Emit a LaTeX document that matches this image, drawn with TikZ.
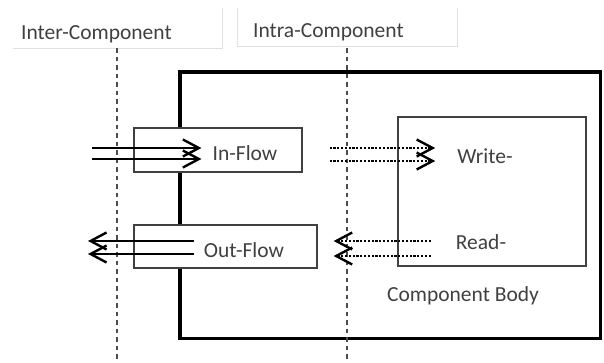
\documentclass[tikz,border=0pt]{standalone}
\usepackage{fontspec}
\setmainfont{Carlito}
\usetikzlibrary{arrows.meta,positioning}
\definecolor{txtgray}{HTML}{404040}
\tikzset{
  txt/.style={text=txtgray,font=\fontsize{21.5}{26}\selectfont,inner sep=0pt},
  flowbox/.style={draw=black!75,fill=white,line width=1.3pt,inner sep=0pt},
  solidflow/.style={line width=2.2pt,-{Straight Barb[length=16pt,width=17pt,line width=2.4pt]}},
  dotflow/.style={solidflow,dash pattern=on 2.2pt off 1.6pt},
  divider/.style={draw=black!70,line width=1.3pt,dash pattern=on 4.5pt off 4pt},
  tab/.style={draw=black!12,line width=1pt}
}
\begin{document}
\begin{tikzpicture}[x=1pt,y=-1pt]
\useasboundingbox (0,0) rectangle (604,362);
% column tabs
\draw[tab] (13,48) -- (222,48) -- (222,8);
\draw[tab] (237,8) -- (237,46) -- (457,46) -- (457,8);
\node[txt,anchor=west] (inter) at (21,34) {Inter-Component};
\node[txt,anchor=west] (intra) at (253,32) {Intra-Component};
% component and body
\node[draw,line width=3.5pt,minimum width=420.5pt,minimum height=266.5pt,inner sep=0pt] (comp) at (390,205) {};
\node[draw=black!75,line width=1.3pt,minimum width=188pt,minimum height=149pt,inner sep=0pt] (body) at (492,191.5) {};
% dividers
\coordinate (interTop) at (117,48);
\coordinate (interBot) at (117,362);
\coordinate (intraTop) at (347,48);
\coordinate (intraBot) at (347,362);
\draw[divider] (interTop) -- (interBot);
\draw[divider] (intraTop) -- (intraBot);
% flow boxes
\node[flowbox,minimum width=168pt,minimum height=44pt] (inbox) at (218,150) {};
\node[flowbox,minimum width=183pt,minimum height=43pt] (outbox) at (225.5,246.5) {};
\node[txt] (inlbl) at (245,153) {In-Flow};
\node[txt] (outlbl) at (244,250) {Out-Flow};
\node[txt] (writelbl) at (485,156) {Write-};
\node[txt] (readlbl) at (481,242) {Read-};
\node[txt] (bodylbl) at (463,296) {Component Body};
% flows
\coordinate (inSrc) at (92,150);
\coordinate (outDst) at (88,246.5);
\foreach \dy in {2,-9}
  \draw[solidflow] ([yshift=\dy pt]inbox.west -| inSrc) -- ([xshift=-11pt,yshift=\dy pt]inbox.west -| inlbl.west);
\foreach \dy in {5.5,-7.5}
  \draw[solidflow] ([xshift=-10pt,yshift=\dy pt]outbox.west -| outlbl.west) -- ([yshift=\dy pt]outbox.west -| outDst);
\foreach \dy in {2,-11}
  \draw[dotflow] ([xshift=27pt,yshift=\dy pt]inbox.east) -- ([xshift=-22pt,yshift=\dy pt]inbox.east -| writelbl.west);
\foreach \dy in {5.5,-9.5}
  \draw[dotflow] ([xshift=-25pt,yshift=\dy pt]outbox.east -| readlbl.west) -- ([xshift=16pt,yshift=\dy pt]outbox.east);
\end{tikzpicture}
\end{document}
